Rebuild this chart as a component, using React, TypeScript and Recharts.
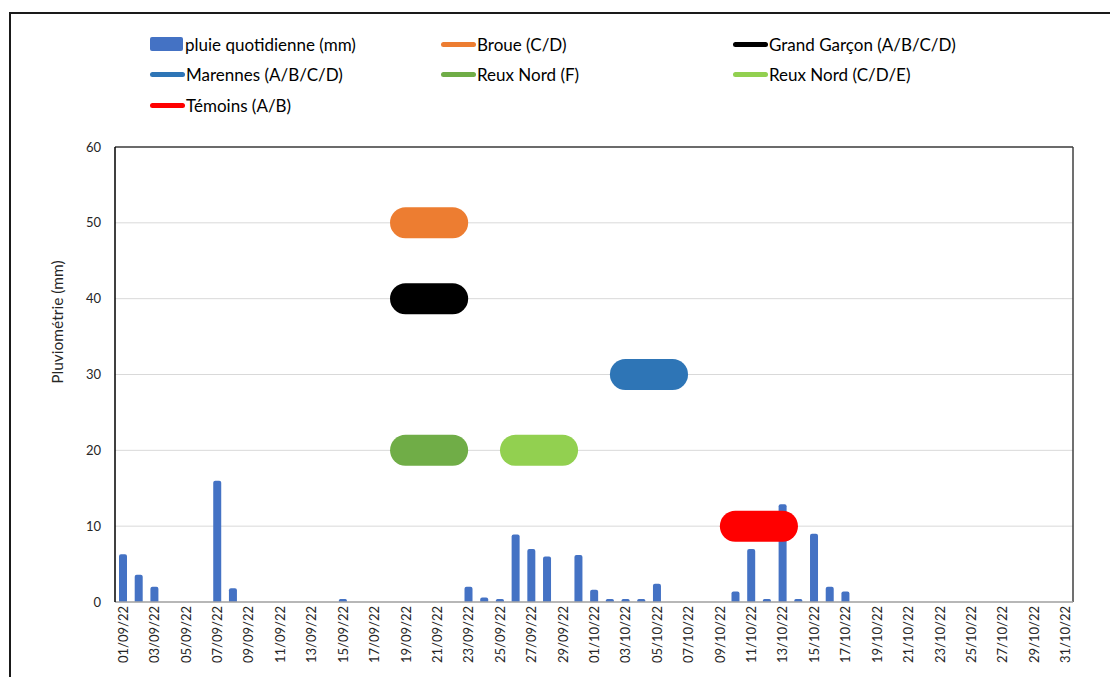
import { ComposedChart, Bar, Line, XAxis, YAxis, CartesianGrid, Legend } from 'recharts';

// jours du 01/09/22 au 31/10/22
const dates = [
  '01/09/22', '02/09/22', '03/09/22', '04/09/22', '05/09/22', '06/09/22', '07/09/22', '08/09/22', '09/09/22', '10/09/22',
  '11/09/22', '12/09/22', '13/09/22', '14/09/22', '15/09/22', '16/09/22', '17/09/22', '18/09/22', '19/09/22', '20/09/22',
  '21/09/22', '22/09/22', '23/09/22', '24/09/22', '25/09/22', '26/09/22', '27/09/22', '28/09/22', '29/09/22', '30/09/22',
  '01/10/22', '02/10/22', '03/10/22', '04/10/22', '05/10/22', '06/10/22', '07/10/22', '08/10/22', '09/10/22', '10/10/22',
  '11/10/22', '12/10/22', '13/10/22', '14/10/22', '15/10/22', '16/10/22', '17/10/22', '18/10/22', '19/10/22', '20/10/22',
  '21/10/22', '22/10/22', '23/10/22', '24/10/22', '25/10/22', '26/10/22', '27/10/22', '28/10/22', '29/10/22', '30/10/22',
  '31/10/22',
];

// pluie quotidienne (mm)
const pluie = [
  6.3, 3.6, 2.0, 0, 0, 0, 16.0, 1.8, 0, 0,
  0, 0, 0, 0, 0.4, 0, 0, 0, 0, 0,
  0, 0, 2.0, 0.6, 0.4, 8.9, 7.0, 6.0, 0, 6.2,
  1.6, 0.4, 0.4, 0.4, 2.4, 0, 0, 0, 0, 1.4,
  7.0, 0.4, 12.9, 0.4, 9.0, 2.0, 1.4, 0, 0, 0,
  0, 0, 0, 0, 0, 0, 0, 0, 0, 0,
  0,
];

// périodes d'intervention par site
const sites = ['Broue (C/D)', 'Grand Garçon (A/B/C/D)', 'Marennes (A/B/C/D)', 'Reux Nord (F)', 'Reux Nord (C/D/E)', 'Témoins (A/B)'];
const niveaux = [50, 40, 30, 20, 20, 10];
const debuts = ['19/09/22', '19/09/22', '03/10/22', '19/09/22', '26/09/22', '10/10/22'];
const fins = ['22/09/22', '22/09/22', '06/10/22', '22/09/22', '29/09/22', '13/10/22'];

const siteColors = ['#ED7D31', '#000000', '#2E75B6', '#70AD47', '#92D050', '#FF0000'];
const barColor = '#4472C4';
const font = 'Lato, "Open Sans", sans-serif';

const data = dates.map((d, i) => {
  const row: Record<string, string | number | null> = { date: d, pluie: pluie[i] };
  sites.forEach((s, k) => {
    const a = dates.indexOf(debuts[k]);
    const b = dates.indexOf(fins[k]);
    row[`s${k}`] = i >= a && i <= b ? niveaux[k] : null;
  });
  return row;
});

const legendItems = [
  { label: 'pluie quotidienne (mm)', color: barColor, bar: true },
  ...sites.map((s, k) => ({ label: s, color: siteColors[k], bar: false })),
];

const LegendBox = () => (
  <div style={{ display: 'grid', gridTemplateColumns: '291px 292px 300px', fontFamily: font, fontSize: 17, color: '#000' }}>
    {legendItems.map((it) => (
      <div key={it.label} style={{ display: 'flex', alignItems: 'center', height: 30.5 }}>
        {it.bar ? (
          <span style={{ width: 33, height: 14, background: it.color, marginRight: 2, borderRadius: 2 }} />
        ) : (
          <span style={{ width: 35, height: 5, background: it.color, marginRight: 1, borderRadius: 3 }} />
        )}
        <span>{it.label}</span>
      </div>
    ))}
  </div>
);

const DateTick = ({ x, y, payload }: any) => (
  <text
    x={x}
    y={y}
    transform={`rotate(-90, ${x}, ${y})`}
    textAnchor="end"
    dominantBaseline="central"
    fontSize={13}
    fontFamily={font}
    fill="#262626"
  >
    {payload.value}
  </text>
);

const YTitle = () => (
  <text
    x={57}
    y={322}
    transform="rotate(-90, 57, 322)"
    textAnchor="middle"
    dominantBaseline="central"
    fontSize={15.5}
    fontFamily={font}
    fill="#262626"
  >
    Pluviométrie (mm)
  </text>
);

export default function App() {
  return (
    <div style={{ position: 'absolute', left: 0, top: 0, width: 1110, height: 677, background: '#fff' }}>
      <div
        style={{
          position: 'absolute',
          left: 9,
          top: 12,
          width: 1101,
          height: 665,
          boxSizing: 'border-box',
          borderTop: '2px solid #1a1a1a',
          borderLeft: '2px solid #1a1a1a',
        }}
      />
      <ComposedChart
        width={1110}
        height={677}
        data={data}
        margin={{ top: 147, right: 37, bottom: 0, left: 0 }}
        barSize={8}
        style={{ position: 'absolute', left: 0, top: 0 }}
      >
        <CartesianGrid vertical={false} stroke="#d9d9d9" />
        {/* cadre de la zone de tracé (haut et droite) */}
        <CartesianGrid
          stroke="#404040"
          strokeWidth={1.5}
          horizontalCoordinatesGenerator={({ offset }: any) => [offset.top]}
          verticalCoordinatesGenerator={({ offset }: any) => [offset.left + offset.width]}
        />
        <XAxis
          dataKey="date"
          interval={1}
          height={75}
          tickSize={0}
          tickMargin={4}
          tick={<DateTick />}
          axisLine={{ stroke: '#a6a6a6', strokeWidth: 1.5 }}
        />
        <YAxis
          domain={[0, 60]}
          ticks={[0, 10, 20, 30, 40, 50, 60]}
          width={115}
          tickSize={0}
          tickMargin={14}
          tick={{ fontSize: 13, fill: '#262626', fontFamily: font }}
          axisLine={{ stroke: '#000', strokeWidth: 1.5 }}
          label={<YTitle />}
        />
        <Legend
          layout="horizontal"
          verticalAlign="middle"
          align="center"
          wrapperStyle={{ top: 29, left: 150, width: 900 }}
          content={<LegendBox />}
        />
        <Bar dataKey="pluie" fill={barColor} radius={[2, 2, 0, 0]} isAnimationActive={false} />
        {sites.map((s, k) => (
          <Line
            key={s}
            dataKey={`s${k}`}
            name={s}
            stroke={siteColors[k]}
            strokeWidth={31}
            strokeLinecap="round"
            dot={false}
            activeDot={false}
            isAnimationActive={false}
          />
        ))}
      </ComposedChart>
    </div>
  );
}
